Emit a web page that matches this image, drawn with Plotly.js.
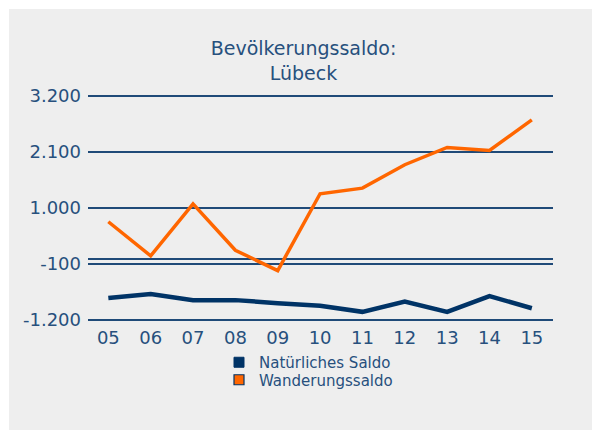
<!DOCTYPE html>
<html>
<head>
<meta charset="utf-8">
<script src="https://cdn.plot.ly/plotly-3.0.1.min.js"></script>
<style>
  html, body { margin: 0; padding: 0; background: #ffffff; }
  #bg { position: absolute; left: 9px; top: 9px; width: 583px; height: 421px; background: #eeeeee; }
  #chart { position: absolute; left: 0; top: 0; width: 593px; height: 432px; }
</style>
</head>
<body>
<div id="bg"></div>
<div id="chart"></div>
<script>
const years = ['05', '06', '07', '08', '09', '10', '11', '12', '13', '14', '15'];
const natuerlichesSaldo = [-770, -690, -810, -810, -870, -920, -1040, -840, -1040, -730, -970];
const wanderungssaldo = [730, 60, 1080, 170, -230, 1280, 1390, 1850, 2190, 2130, 2730];
const yTickVals = [-1200, -100, 1000, 2100, 3200];
const yTickText = ['-1.200', '-100', '1.000', '2.100', '3.200'];
const seriesNames = ['Natürliches Saldo', 'Wanderungssaldo'];
const titleLines = ['Bevölkerungssaldo:', 'Lübeck'];

const navy = '#003366';
const orange = '#ff6600';
const textColor = '#27507d';
const gridColor = '#1f4a78';
const fontFamily = 'DejaVu Sans, sans-serif';

const traces = [
  { type: 'scatter', mode: 'lines', x: years, y: natuerlichesSaldo, name: seriesNames[0],
    line: { color: navy, width: 4.5 }, showlegend: false, hoverinfo: 'skip' },
  { type: 'scatter', mode: 'lines', x: years, y: wanderungssaldo, name: seriesNames[1],
    line: { color: orange, width: 3.5 }, showlegend: false, hoverinfo: 'skip' },
  { type: 'scatter', mode: 'markers', x: [null], y: [null], name: seriesNames[0], legend: 'legend',
    marker: { symbol: 'square', size: 10, color: navy, line: { color: navy, width: 1 } } },
  { type: 'scatter', mode: 'markers', x: [null], y: [null], name: seriesNames[1], legend: 'legend2',
    marker: { symbol: 'square', size: 10, color: orange, line: { color: navy, width: 1.2 } } }
];

const legendBase = {
  orientation: 'v', xref: 'container', yref: 'container',
  xanchor: 'left', yanchor: 'top',
  bgcolor: 'rgba(0,0,0,0)', borderwidth: 0,
  font: { family: fontFamily, size: 15, color: textColor }
};

const layout = {
  width: 593, height: 432,
  paper_bgcolor: 'rgba(0,0,0,0)', plot_bgcolor: 'rgba(0,0,0,0)',
  margin: { l: 88, r: 40, t: 95, b: 111, autoexpand: false },
  font: { family: fontFamily, color: textColor, size: 18 },
  title: {
    text: titleLines.join('<br>'),
    font: { family: fontFamily, size: 19, color: textColor },
    xref: 'container', yref: 'container', x: 303.5 / 593, y: 1 - 55 / 432,
    xanchor: 'center', yanchor: 'middle'
  },
  xaxis: {
    type: 'category', range: [-0.48, 10.5],
    showgrid: false, zeroline: false, showline: false, ticks: '',
    tickfont: { family: fontFamily, size: 18, color: textColor },
    ticklabelstandoff: 4, fixedrange: true
  },
  yaxis: {
    range: [-1220, 3220], tickvals: yTickVals, ticktext: yTickText,
    showgrid: true, gridcolor: gridColor, gridwidth: 1.5,
    zeroline: true, zerolinecolor: gridColor, zerolinewidth: 1.5,
    showline: false, ticks: '',
    tickfont: { family: fontFamily, size: 18, color: textColor },
    ticklabelstandoff: 6, fixedrange: true
  },
  showlegend: true,
  legend: Object.assign({}, legendBase, { x: 219 / 593, y: 1 - 346 / 432 }),
  legend2: Object.assign({}, legendBase, { x: 219 / 593, y: 1 - 363.5 / 432 })
};

Plotly.newPlot('chart', traces, layout, { displayModeBar: false, staticPlot: true });
</script>
</body>
</html>
